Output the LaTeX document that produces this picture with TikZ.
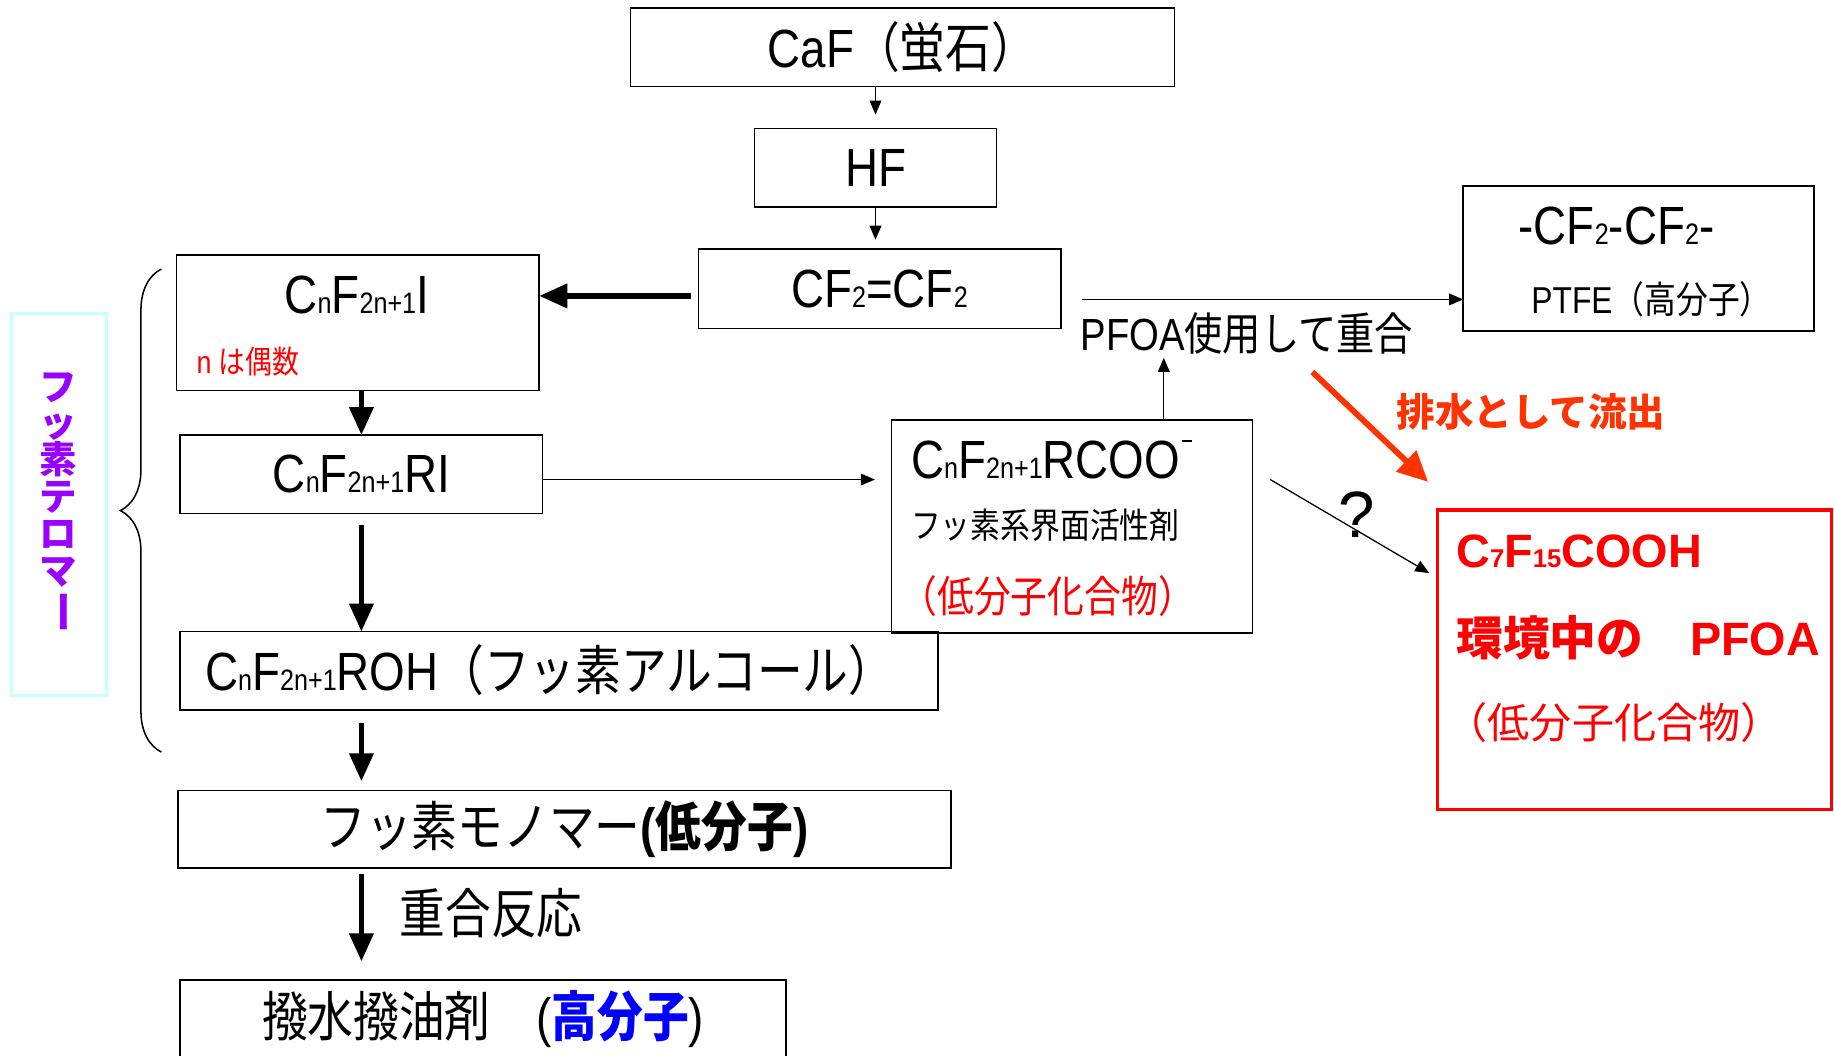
\documentclass[tikz,border=0pt]{standalone}
\usepackage{graphicx}
\usepackage{fontspec}
\setmainfont{Liberation Sans}[FakeStretch=0.85]
\newfontfamily\jp{Noto Sans CJK JP}[FakeStretch=0.85]
\newfontfamily\lsn{Liberation Sans}
\newfontfamily\jpn{Noto Sans CJK JP}
\usetikzlibrary{arrows.meta,decorations.pathreplacing,calc}
\definecolor{purp}{RGB}{153,0,255}
\definecolor{cyanb}{RGB}{200,255,255}
\definecolor{orr}{RGB}{255,51,0}
\definecolor{rd}{RGB}{255,0,0}
\definecolor{bl}{RGB}{0,0,255}
\newcommand\fs[1]{\fontsize{#1}{#1}\selectfont}
\makeatletter
\newcommand\sbt[1]{{\fontsize{\fpeval{0.55*\f@size}}{1}\selectfont #1}}
\newcommand\supm{\kern0.03em\raisebox{0.68em}{\rule{0.2em}{0.04em}}}
\makeatother
\begin{document}
\begin{tikzpicture}[x=1pt,y=-1pt,
  box/.style={draw, line width=1.3pt, inner sep=0pt, outer sep=0pt},
  tx/.style={inner sep=0pt, outer sep=0pt},
  thinarr/.style={-{Triangle[length=12pt,width=10pt]}, line width=1.1pt},
  bigarr/.style={-{Triangle[length=24pt,width=20pt]}, line width=5pt},
  redarr/.style={-{Triangle[length=26pt,width=24pt]}, line width=5pt, draw=orr, color=orr},
]
\useasboundingbox (0,0) rectangle (1568,902);
\fill[white] (0,0) rectangle (1568,902);

% boxes
\node[box, minimum width=465, minimum height=67] (caf) at (771.5,40.5) {\fs{46}CaF{\jp （蛍石）}};
\node[box, minimum width=207, minimum height=67] (hf) at (748.5,143.5) {\fs{46}HF};
\node[box, minimum width=310, minimum height=68] (cf2) at (752,247) {\fs{46}CF\sbt{2}=CF\sbt{2}};
\node[box, minimum width=310, minimum height=116] (cnfi) at (306,276) {};
\node[tx] (cnfit) at (305,252) {\fs{46}C\sbt{n}F\sbt{2n+1}I};
\node[tx, anchor=west, text=rd] (neven) at (168,309) {\fs{27}n {\jp は偶数}};
\node[box, minimum width=310, minimum height=67] (cnfri) at (309,405.5) {\fs{46}C\sbt{n}F\sbt{2n+1}RI};
\node[box, minimum width=648, minimum height=67] (roh) at (478,573.5) {};
\node[tx] (roht) at (470,573) {\fs{46}C\sbt{n}F\sbt{2n+1}ROH{\jp （フッ素アルコール）}};
\node[box, minimum width=661, minimum height=66] (mono) at (482.5,709) {\fs{46}{\jp フッ素モノマー}\textbf{(}{\jp\bfseries 低分子}\textbf{)}};
\node[box, minimum width=518, minimum height=80] (fin) at (413,878) {};
\node[tx] (fint) at (413,871) {\fs{46}{\jp 撥水撥油剤　}({\jp\bfseries\color{bl}高分子})};

\node[box, minimum width=309, minimum height=182] (rcoo) at (916.5,450) {};
\node[tx, anchor=west] (rcoo1) at (779,393) {\fs{46}C\sbt{n}F\sbt{2n+1}RCOO\supm};
\node[tx, anchor=west] (rcoo2) at (779,449) {\fs{30}\jp フッ素系界面活性剤};
\node[tx, anchor=west, text=rd] (rcoo3) at (770,510) {\fs{37}\jp （低分子化合物）};

\node[box, minimum width=300, minimum height=124] (ptfe) at (1401,221) {};
\node[tx] (ptfe1) at (1382,193) {\fs{46}-CF\sbt{2}-CF\sbt{2}-};
\node[tx] (ptfe2) at (1412,256) {\fs{32}PTFE{\jp （高分子）}};

\node[box, draw=rd, line width=3pt, minimum width=337, minimum height=256] (pfoa) at (1397.5,564) {};
\node[tx, anchor=west, text=rd] (pf1) at (1245,471) {\fs{40}\lsn\bfseries C\sbt{7}F\sbt{15}COOH};
\node[tx, anchor=west, text=rd] (pf2) at (1245,545) {\fs{40}{\jpn\bfseries 環境中の　}{\lsn\bfseries PFOA}};
\node[tx, anchor=west, text=rd] (pf3) at (1236,618) {\fs{36}\jpn （低分子化合物）};

\node[box, draw=cyanb, line width=2.5pt, minimum width=81, minimum height=327] (tel) at (50.5,431.5) {};
\node[tx, text=purp, align=center, font={\fontsize{32}{31.5}\selectfont\jpn\bfseries}] (telt) at (50,430)
  {フ\\ッ\\素\\テ\\ロ\\マ\\\rotatebox[origin=c]{-90}{\scalebox{1.15}[1]{ー}}};

% labels
\node[tx] (pfoalab) at (1066,285) {\fs{38.5}PFOA{\jp 使用して重合}};
\node[tx, text=orr] (drain) at (1309,352) {\fs{33}\jpn\bfseries 排水として流出};
\node[tx] (q) at (1160,440) {\fs{56}\lsn ?};
\node[tx] (poly) at (420,781) {\fs{46}\jp 重合反応};

% connectors
\draw[thinarr, shorten >=12pt] (hf.north |- caf.south) -- (hf.north);
\draw[thinarr, shorten >=8pt] (hf.south) -- (hf.south |- cf2.north);
\coordinate (a1) at ([xshift=-6pt,yshift=-6pt]cf2.west);
\draw[bigarr] (a1) -- (a1 -| cnfi.east);
\draw[bigarr] (cnfri.north |- cnfi.south) -- (cnfri.north);
\draw[bigarr, shorten <=10pt] (cnfri.south) -- (cnfri.south |- roh.north);
\draw[bigarr, shorten <=11pt, shorten >=8pt] (cnfri.south |- roh.south) -- (cnfri.south |- mono.north);
\draw[bigarr, shorten <=5pt, shorten >=16pt] (cnfri.south |- mono.south) -- (cnfri.south |- fin.north);
\coordinate (a2) at ([yshift=-4.5pt]cnfri.east);
\draw[thinarr, shorten >=14pt] (a2) -- (a2 -| rcoo.west);
\coordinate (a3) at ([xshift=78.5pt]rcoo.north);
\draw[thinarr, shorten >=3pt] (a3) -- (a3 |- pfoalab.south);
\coordinate (a4) at ([xshift=18pt,yshift=-9pt]cf2.east);
\draw[thinarr] (a4) -- (a4 -| ptfe.west);
\coordinate (r1) at (1122,318);
\coordinate (r2) at ([xshift=-8pt,yshift=24pt]pfoa.north west);
\draw[redarr] (r1) -- (r2);
\coordinate (q1) at ([xshift=15pt,yshift=40pt]rcoo.east);
\coordinate (q2) at ([xshift=-7pt,yshift=74pt]pfoa.west);
\draw[thinarr] (q1) -- (q2);
\draw[decorate, decoration={brace, amplitude=35pt, aspect=0.5}, line width=1.3pt] (138,643) -- (138,230);
\end{tikzpicture}
\end{document}
